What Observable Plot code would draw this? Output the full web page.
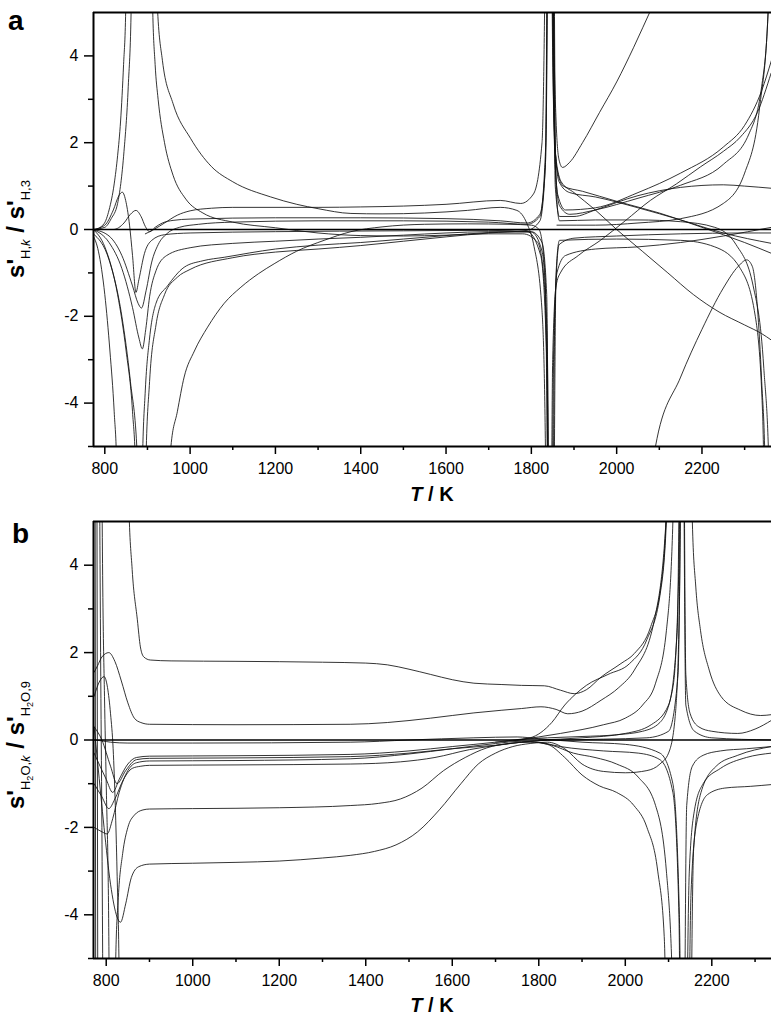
<!DOCTYPE html>
<html><head><meta charset="utf-8">
<script src="https://cdn.jsdelivr.net/npm/d3@7"></script>
<script src="https://cdn.jsdelivr.net/npm/@observablehq/plot@0.6"></script>
<style>
body{margin:0;background:#fff;}
#wrap{position:relative;width:771px;height:1019px;font-family:"Liberation Sans",Arial,sans-serif;}
#wrap svg{position:absolute;left:0;background:transparent;overflow:visible;}
</style></head><body><div id="wrap"></div>
<script>
// ---------- tick values ----------
const xMajor = [800, 1000, 1200, 1400, 1600, 1800, 2000, 2200];
const xMinor = [900, 1100, 1300, 1500, 1700, 1900, 2100, 2300];
const yMajor = [-4, -2, 0, 2, 4];
const yMinor = [-5, -3, -1, 1, 3];
const xDomainA = [773.5, 2363];
const xDomainB = [770.6, 2338];

// ---------- panel a : s'H,k / s'H,3  ([T, value]) ----------
const a_zero = [[773.5,0],[2363,0]];
const a_c1 = [[773,-0.02],[798,0.13],[810,0.45],[822,1.05],[830,1.7],[837,2.5],[844,3.8],[849,5.05],[853,9]];
const a_c2 = [[773,0],[800,0.05],[815,0.25],[830,0.6],[845,1.8],[855,3.3],[862,5.2],[866,9]];
const a_h1 = [[908,9],[912,5.2],[918,3.8],[925,3.0],[940,2.0],[960,1.25],[990,0.7],[1030,0.38],[1100,0.17],[1200,0.04],[1300,-0.08],[1400,-0.14],[1500,-0.15],[1600,-0.13],[1700,-0.1],[1780,-0.1],[1815,-0.3],[1830,-1.2],[1838,-4],[1841,-9]];
const a_h2 = [[918,9],[923,5.2],[935,3.9],[960,2.9],[1001,2.1],[1050,1.45],[1100,1.1],[1189,0.75],[1250,0.58],[1300,0.48],[1377,0.37],[1450,0.36],[1550,0.38],[1650,0.44],[1727,0.51],[1766,0.44],[1790,0.13],[1805,-0.33],[1825,-1.87],[1833,-5],[1837,-9]];
const a_rise = [[895,-0.1],[915,0.0],[940,0.15],[970,0.33],[1000,0.43],[1050,0.49],[1100,0.51],[1300,0.51],[1400,0.52],[1500,0.54],[1600,0.58],[1727,0.67],[1775,0.6],[1805,0.82],[1825,2.0],[1831,5],[1835,9]];
const a_b1 = [[773,0],[800,0.1],[820,0.45],[833,0.78],[841,0.86],[850,0.62],[858,0.1],[865,-0.6],[873,-1.45],[880,-1.15],[893,-0.55],[910,-0.25],[940,-0.12],[1000,-0.08],[1200,-0.05],[1500,-0.03],[1700,-0.02],[1800,-0.05],[1825,-0.3],[1836,-1.5],[1841,-9]];
const a_b2 = [[773,0],[820,0.0],[845,0.15],[860,0.35],[873,0.44],[885,0.3],[895,0.07],[905,-0.05],[918,0.05],[935,0.15],[960,0.21],[1000,0.24],[1200,0.27],[1400,0.27],[1600,0.25],[1727,0.2],[1790,0.15],[1820,0.35],[1833,1.5],[1839,9]];
const a_dip1 = [[773,0],[810,-0.15],[840,-0.6],[865,-1.3],[878,-1.7],[886,-1.81],[897,-1.4],[910,-0.75],[925,-0.35],[945,-0.1],[975,0.05],[1020,0.12],[1100,0.17],[1300,0.2],[1500,0.2],[1700,0.17],[1790,0.12],[1820,0.3],[1834,2],[1840,9]];
const a_dip2 = [[773,0],[810,-0.3],[840,-0.9],[865,-1.8],[880,-2.5],[888,-2.75],[896,-2.3],[905,-1.55],[920,-0.95],[945,-0.6],[1000,-0.42],[1100,-0.32],[1200,-0.27],[1300,-0.22],[1400,-0.18],[1500,-0.13],[1600,-0.08],[1700,-0.05],[1800,-0.06],[1825,-0.5],[1837,-2.5],[1842,-9]];
const a_d1 = [[773,-0.15],[785,-0.5],[800,-1.5],[812,-2.8],[822,-4.2],[828,-5.5],[831,-9]];
const a_d2 = [[773,0],[800,-0.4],[830,-1.5],[850,-2.8],[865,-4.2],[872,-5.5],[875,-9]];
const a_d3 = [[773,-0.1],[810,-0.7],[840,-2.0],[860,-3.5],[876,-5.2],[880,-9]];
const a_r1 = [[885,-9],[888,-5.5],[895,-3.7],[905,-2.5],[920,-1.7],[947,-1.3],[986,-0.87],[1030,-0.72],[1080,-0.64],[1200,-0.45],[1300,-0.36],[1400,-0.3],[1500,-0.22],[1600,-0.14],[1700,-0.07],[1790,-0.05],[1822,-0.6],[1836,-3],[1840,-9]];
const a_r2 = [[893,-9],[896,-5.5],[905,-3.5],[920,-2.2],[940,-1.5],[970,-1.1],[1000,-0.92],[1100,-0.65],[1200,-0.52],[1300,-0.45],[1400,-0.37],[1500,-0.27],[1600,-0.17],[1700,-0.08],[1790,-0.02],[1820,0.2],[1833,1.5],[1838,9]];
const a_r3 = [[950,-9],[955,-5.0],[970,-4.2],[986,-3.4],[1010,-2.8],[1041,-2.25],[1080,-1.7],[1119,-1.33],[1160,-1.02],[1197,-0.79],[1250,-0.5],[1314,-0.25],[1377,-0.05],[1450,0.06],[1550,0.12],[1650,0.13],[1750,0.12],[1800,0.1],[1818,0.0],[1832,-1],[1840,-9]];
const a_R1 = [[1848,9],[1852,5],[1858,2.5],[1865,1.6],[1873,1.43],[1890,1.55],[1920,2.0],[1960,2.7],[2000,3.4],[2040,4.2],[2082,5.1],[2150,6.5]];
const a_R2 = [[1846,9],[1850,4],[1856,1.8],[1870,1.1],[1900,0.85],[1950,0.45],[2000,0.0],[2060,-0.5],[2120,-1.0],[2180,-1.5],[2240,-1.9],[2300,-2.2],[2340,-2.4],[2363,-2.55]];
const a_R3 = [[1847,9],[1852,3],[1860,1.4],[1875,1.0],[1920,0.88],[2000,0.65],[2100,0.38],[2200,0.05],[2300,-0.3],[2363,-0.55]];
const a_R4 = [[1849,9],[1855,2],[1865,1.1],[1890,0.85],[1950,0.75],[2050,0.5],[2150,0.22],[2250,-0.08],[2363,-0.32]];
const a_R5 = [[1848,9],[1854,2],[1862,0.8],[1880,0.45],[1950,0.5],[2050,0.85],[2150,1.3],[2250,1.9],[2300,2.4],[2340,3.2],[2363,3.9]];
const a_R6 = [[1850,9],[1856,1.5],[1866,0.55],[1890,0.35],[1950,0.45],[2050,0.72],[2150,1.02],[2250,1.5],[2310,2.2],[2340,3.3],[2355,5],[2362,9]];
const a_R7 = [[1851,9],[1856,1],[1866,0.3],[1900,0.3],[1950,0.45],[2050,0.78],[2150,0.97],[2250,1.03],[2300,1.0],[2363,0.95]];
const a_N1 = [[1846,-9],[1850,-3],[1858,-1.3],[1868,-1.0],[1910,-0.6],[1962,-0.25],[2020,0.2],[2079,0.67],[2140,1.05],[2196,1.44],[2250,1.8],[2290,2.13],[2330,2.7],[2362,3.6]];
const a_N2 = [[1848,-9],[1852,-3],[1860,-1.0],[1880,-0.6],[1950,-0.45],[2050,-0.4],[2150,-0.3],[2250,-0.15],[2363,0.05]];
const a_N3 = [[1850,-9],[1855,-2],[1865,-0.35],[1900,-0.2],[2000,-0.15],[2150,-0.1],[2300,-0.08],[2363,-0.08]];
const a_P1 = [[1852,9],[1858,1],[1866,0.2],[1950,0.22],[2050,0.22],[2150,0.18],[2230,0.05],[2280,-0.35],[2320,-1.3],[2345,-3.2],[2357,-5.5],[2360,-9]];
const a_P2 = [[1852,-9],[1858,-1],[1866,-0.25],[2000,-0.22],[2150,-0.25],[2230,-0.4],[2290,-0.9],[2325,-2],[2342,-4.2],[2350,-9]];
const a_P3 = [[2085,-6],[2091,-5],[2150,-3.4],[2200,-2.3],[2250,-1.35],[2285,-0.85],[2305,-0.7],[2318,-0.85],[2330,-1.8],[2340,-3.5],[2348,-5.5],[2351,-9]];
const a_Q = [[1860,0.1],[1950,0.1],[2050,0.15],[2150,0.25],[2250,0.6],[2300,1.3],[2335,2.8],[2355,5],[2361,9]];

// ---------- panel b : s'H2O,k / s'H2O,9 ----------
const b_zero = [[770.6,0],[2338,0]];
const b_V1 = [[774,9],[776,-9]];
const b_V2 = [[778,9],[781,-9]];
const b_V3 = [[783,9],[787,2],[790,-2],[794,-9]];
const b_V4 = [[788,9],[792,3.5],[796,1],[800,-1],[806,-4.5],[809,-9]];
const b_H1 = [[848,9],[852,5.5],[860,3.9],[872,2.75],[879,2.13],[887,1.9],[902,1.83],[950,1.81],[1100,1.8],[1300,1.78],[1400,1.76],[1450,1.72],[1500,1.62],[1550,1.5],[1600,1.38],[1650,1.3],[1713,1.27],[1760,1.25],[1813,1.24],[1850,1.14],[1882,1.06],[1910,1.15],[1944,1.44],[1990,1.75],[2021,1.98],[2059,2.6],[2082,3.5],[2094,5],[2100,9]];
const b_B2 = [[772,1.55],[780,1.7],[790,1.9],[806,2.0],[820,1.8],[835,1.35],[850,0.85],[865,0.5],[880,0.4],[900,0.36],[1100,0.35],[1364,0.36],[1450,0.4],[1550,0.5],[1650,0.62],[1713,0.68],[1760,0.72],[1805,0.76],[1840,0.7],[1867,0.6],[1900,0.66],[1944,0.91],[1985,1.2],[2021,1.6],[2067,2.74],[2094,5],[2102,9]];
const b_B3 = [[772,1.0],[785,1.35],[795,1.45],[803,1.2],[810,0.6],[816,-0.2],[821,-1.5],[825,-3],[830,-5.5],[833,-9]];
const b_B4 = [[772,0.3],[780,-0.5],[795,-2.0],[810,-3.3],[825,-4.05],[833,-4.17],[845,-3.75],[858,-3.15],[875,-2.9],[900,-2.84],[1000,-2.82],[1100,-2.8],[1200,-2.77],[1300,-2.7],[1364,-2.64],[1420,-2.55],[1470,-2.4],[1520,-2.1],[1570,-1.6],[1620,-1.0],[1660,-0.55],[1700,-0.3],[1740,-0.15],[1780,-0.08],[1820,-0.05],[1860,-0.2],[1900,-0.55],[1950,-0.72],[2000,-0.75],[2050,-0.7],[2080,-0.55],[2100,-0.3],[2115,0.5],[2125,3],[2130,9]];
const b_B5 = [[818,-9],[822,-5],[828,-3.6],[838,-2.6],[850,-2.0],[865,-1.72],[885,-1.6],[900,-1.58],[1000,-1.57],[1200,-1.55],[1364,-1.5],[1430,-1.45],[1480,-1.35],[1530,-1.1],[1580,-0.7],[1630,-0.4],[1680,-0.18],[1730,-0.08],[1780,-0.05],[1820,-0.1],[1860,-0.4],[1900,-0.8],[1940,-1.05],[1980,-1.2],[2020,-1.5],[2050,-2.0],[2075,-3.0],[2090,-4.5],[2098,-9]];
const b_C1 = [[1700,-0.05],[1780,0.05],[1830,0.4],[1860,0.8],[1885,1.05],[1910,1.25],[1960,1.5],[2010,1.75],[2050,2.3],[2080,3.3],[2095,5],[2100,9]];
const b_C2 = [[1750,0.0],[1850,0.15],[1950,0.35],[2000,0.5],[2040,0.8],[2070,1.3],[2095,2.5],[2110,5],[2115,9]];
const b_C3 = [[1800,0.0],[1900,0.05],[2000,0.15],[2060,0.35],[2100,0.8],[2120,2.5],[2127,9]];
const b_N1 = [[772,0],[790,-0.02],[810,-0.05],[850,-0.07],[1000,-0.07],[1364,-0.05],[1500,0],[1650,0.05],[1750,0.07],[1800,0.03],[1900,-0.05],[2000,-0.1],[2080,-0.3],[2110,-1],[2125,-4],[2130,-9]];
const b_N2 = [[772,-0.3],[800,-0.9],[815,-1.2],[830,-0.9],[850,-0.55],[870,-0.4],[900,-0.37],[1100,-0.36],[1364,-0.33],[1500,-0.25],[1600,-0.15],[1700,-0.05],[1760,0.02],[1820,0.05],[1900,0.08],[1980,0.12],[2040,0.2],[2080,0.4],[2110,1.2],[2124,4],[2128,9]];
const b_N3 = [[772,-2.0],[790,-2.1],[802,-2.15],[815,-1.8],[830,-1.2],[850,-0.7],[870,-0.52],[900,-0.48],[1100,-0.47],[1364,-0.43],[1500,-0.32],[1600,-0.2],[1700,-0.08],[1760,-0.03],[1800,-0.05],[1850,-0.15],[1950,-0.25],[2030,-0.3],[2080,-0.45],[2110,-1.2],[2124,-4],[2128,-9]];
const b_N4 = [[772,-1.0],[790,-1.3],[806,-1.57],[820,-1.35],[840,-0.9],[860,-0.65],[880,-0.6],[900,-0.58],[1100,-0.57],[1364,-0.55],[1480,-0.5],[1560,-0.4],[1640,-0.22],[1720,-0.1],[1790,-0.02],[1850,0.0],[1950,0.02],[2050,0.05],[2100,0.2],[2122,1.5],[2130,9]];
const b_N5 = [[772,0.3],[790,0.0],[810,-0.6],[825,-1.0],[845,-0.7],[870,-0.45],[900,-0.42],[1100,-0.41],[1364,-0.38],[1500,-0.3],[1600,-0.2],[1700,-0.12],[1780,-0.04],[1830,-0.12],[1880,-0.3],[1930,-0.4],[1980,-0.55],[2030,-0.85],[2070,-1.5],[2095,-3],[2110,-6],[2115,-9]];
const b_R1 = [[2150,9],[2155,5],[2163,3.5],[2174,2.5],[2194,1.6],[2221,1.0],[2267,0.68],[2313,0.56],[2338,0.58]];
const b_R2 = [[2135,9],[2140,1.5],[2150,0.6],[2170,0.3],[2200,0.2],[2260,0.15],[2300,0.25],[2338,0.45]];
const b_R3 = [[2134,9],[2140,0.8],[2160,0.2],[2200,0.05],[2338,0.0]];
const b_R4 = [[2136,-9],[2142,-1.5],[2155,-0.6],[2180,-0.35],[2220,-0.25],[2280,-0.2],[2338,-0.15]];
const b_R5 = [[2140,-9],[2148,-3],[2160,-1.6],[2180,-1.0],[2220,-0.65],[2280,-0.4],[2338,-0.3]];
const b_R6 = [[2145,-9],[2152,-3.5],[2165,-1.9],[2190,-1.25],[2230,-1.1],[2290,-1.06],[2338,-1.02]];
const b_R7 = [[2150,-9],[2158,-2.5],[2175,-1.2],[2210,-0.6],[2260,-0.35],[2338,-0.15]];

const seriesA = [["c1",a_c1],["c2",a_c2],["h1",a_h1],["h2",a_h2],["rise",a_rise],["b1",a_b1],["b2",a_b2],["dip1",a_dip1],["dip2",a_dip2],["d1",a_d1],["d2",a_d2],["d3",a_d3],["r1",a_r1],["r2",a_r2],["r3",a_r3],["R1",a_R1],["R2",a_R2],["R3",a_R3],["R4",a_R4],["R5",a_R5],["R6",a_R6],["R7",a_R7],["N1",a_N1],["N2",a_N2],["N3",a_N3],["P1",a_P1],["P2",a_P2],["P3",a_P3],["Q",a_Q]];
const seriesB = [["V1",b_V1],["V2",b_V2],["V3",b_V3],["V4",b_V4],["H1",b_H1],["B2",b_B2],["B3",b_B3],["B4",b_B4],["B5",b_B5],["C1",b_C1],["C2",b_C2],["C3",b_C3],["N1",b_N1],["N2",b_N2],["N3",b_N3],["N4",b_N4],["N5",b_N5],["R1",b_R1],["R2",b_R2],["R3",b_R3],["R4",b_R4],["R5",b_R5],["R6",b_R6],["R7",b_R7]];

const toRows = list => list.flatMap(([id, pts]) => pts.map(([T, v]) => ({id, T, v})));
const rowsA = toRows(seriesA);
const rowsB = toRows(seriesB);
const zeroA = a_zero.map(([T, v]) => ({T, v}));
const zeroB = b_zero.map(([T, v]) => ({T, v}));

const FONT = "'Liberation Sans', Arial, sans-serif";

function panel(rows, zero, xdom, height, mt, mb) {
  return Plot.plot({
    width: 771, height, marginTop: mt, marginBottom: mb, marginLeft: 93, marginRight: 0,
    x: {domain: xdom},
    y: {domain: [-5, 5]},
    style: {fontFamily: FONT, fontSize: "16px", background: "transparent", overflow: "visible", color: "#000"},
    marks: [
      Plot.line(rows, {x: "T", y: "v", z: "id", stroke: "#111", strokeWidth: 0.85, curve: "monotone-x", clip: true}),
      Plot.line(zero, {x: "T", y: "v", stroke: "#000", strokeWidth: 1.7}),
      Plot.axisX({ticks: xMajor, tickSize: 8, tickPadding: 8, tickFormat: d => String(d), label: null, strokeWidth: 1.5, fontSize: 16}),
      Plot.axisX({ticks: xMinor, tickSize: 4, tickFormat: () => "", label: null, strokeWidth: 1.5}),
      Plot.axisY({ticks: yMajor, tickSize: 9, tickPadding: 6, tickFormat: d => String(d), label: null, strokeWidth: 1.5, fontSize: 16}),
      Plot.axisY({ticks: yMinor, tickSize: 5, tickFormat: () => "", label: null, strokeWidth: 1.5}),
      Plot.ruleY([-5], {strokeWidth: 2}),
      Plot.ruleY([5], {strokeWidth: 2}),
      Plot.ruleX([xdom[0]], {strokeWidth: 2})
    ]
  });
}

const wrap = document.getElementById("wrap");
const svgA = panel(rowsA, zeroA, xDomainA, 505, 12, 59);
svgA.style.top = "0px";
wrap.appendChild(svgA);
const svgB = panel(rowsB, zeroB, xDomainB, 514, 16, 61);
svgB.style.top = "505px";
wrap.appendChild(svgB);

function addText(svg, x, y, parts, opts = {}) {
  const t = d3.select(svg).append("text")
    .attr("x", x).attr("y", y)
    .attr("font-family", FONT).attr("fill", "#000")
    .attr("text-anchor", opts.anchor || "start");
  if (opts.transform) t.attr("transform", opts.transform).attr("x", 0).attr("y", 0);
  for (const p of parts) {
    const s = t.append("tspan").text(p.t);
    if (p.size) s.attr("font-size", p.size);
    if (p.bold) s.attr("font-weight", "bold");
    if (p.italic) s.attr("font-style", "italic");
    if (p.dy) s.attr("dy", p.dy);
  }
  return t;
}

// panel letters
addText(svgA, 8, 30, [{t: "a", size: 28, bold: true}]);
addText(svgB, 12, 38, [{t: "b", size: 28, bold: true}]);

// x titles
addText(svgA, 432, 501, [{t: "T", size: 20, bold: true, italic: true}, {t: " / K", size: 20, bold: true}], {anchor: "middle"});
addText(svgB, 432, 507, [{t: "T", size: 20, bold: true, italic: true}, {t: " / K", size: 20, bold: true}], {anchor: "middle"});

// y titles
addText(svgA, 0, 0, [
  {t: "s'", size: 24, bold: true},
  {t: "H,", size: 13, dy: 6}, {t: "k", size: 13, italic: true},
  {t: " / ", size: 24, bold: true, dy: -6},
  {t: "s'", size: 24, bold: true},
  {t: "H,3", size: 13, dy: 6}
], {anchor: "middle", transform: "translate(24,229) rotate(-90)"});

addText(svgB, 0, 0, [
  {t: "s'", size: 24, bold: true},
  {t: "H", size: 13, dy: 6}, {t: "2", size: 9, dy: 3}, {t: "O,", size: 13, dy: -3}, {t: "k", size: 13, italic: true},
  {t: " / ", size: 24, bold: true, dy: -6},
  {t: "s'", size: 24, bold: true},
  {t: "H", size: 13, dy: 6}, {t: "2", size: 9, dy: 3}, {t: "O,9", size: 13, dy: -3}
], {anchor: "middle", transform: "translate(24,240) rotate(-90)"});
</script></body></html>
